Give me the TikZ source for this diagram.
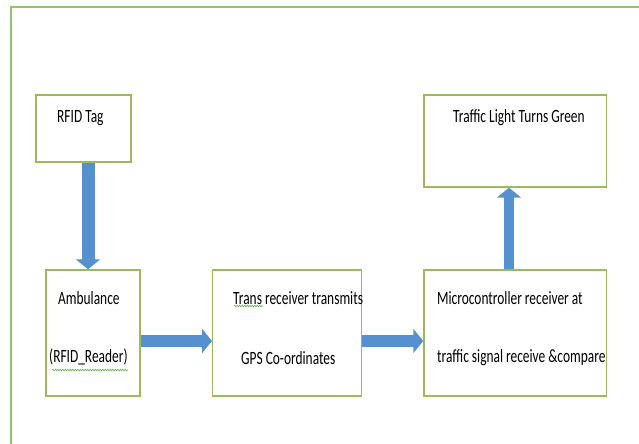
\documentclass[tikz,border=0pt]{standalone}
\usepackage{fontspec}
\setmainfont{Carlito}
\usetikzlibrary{arrows.meta,decorations.pathmorphing}
\definecolor{boxgreen}{HTML}{9BBB59}
\definecolor{framegreen}{HTML}{92C46E}
\definecolor{flowblue}{HTML}{5590CF}
\definecolor{squiggle}{HTML}{5FB04A}
% tall, narrow lettering
\newcommand{\tallText}[1]{\scalebox{1}[1.4]{#1}}
\tikzset{
  stage/.style={draw=boxgreen, line width=1.4bp, fill=white, inner sep=0pt},
  caption/.style={anchor=west, inner sep=0pt, font=\fontsize{13.4bp}{15bp}\selectfont},
  flow/.style={draw=flowblue, line width=#1},
  flowhead/.style={-{Triangle[width=24bp,length=10bp]}},
  spell/.style={draw=squiggle, line width=0.6bp,
    decorate, decoration={snake, amplitude=0.8bp, segment length=2.5bp}}
}
\begin{document}
\begin{tikzpicture}[x=1bp, y=-1bp]
\useasboundingbox (0,0) rectangle (639,444);
% outer frame
\draw[framegreen, line width=1.6bp] (11,450) -- (11,7) -- (645,7);

% stages
\node[stage, minimum width=95bp, minimum height=67bp] (rfid) at (83.5,128.5) {};
\node[stage, minimum width=94bp, minimum height=126bp] (amb) at (93,333) {};
\node[stage, minimum width=149bp, minimum height=126bp] (trans) at (287.2,333) {};
\node[stage, minimum width=182.7bp, minimum height=126bp] (micro) at (515.3,333) {};
\node[stage, minimum width=182.7bp, minimum height=92bp] (light) at (515.3,141) {};

% captions
\node[caption] (t1) at (57,118) {\tallText{RFID Tag}};
\node[caption] (t2) at (58,298) {\tallText{Ambulance}};
\node[caption] (t3) at (49,357) {\tallText{(RFID\_Reader)}};
\node[caption] (t4) at (233,298) {\tallText{Trans receiver transmits}};
\node[caption] (t5) at (241,358) {\tallText{GPS Co-ordinates}};
\node[caption] (t6) at (437,298) {\tallText{Microcontroller receiver at}};
\node[caption] (t7) at (437,358) {\tallText{traffic signal receive \&compare}};
\node[caption] (t8) at (453,118) {\tallText{Traffic Light Turns Green}};

% spell-check marks
\coordinate (s1a) at (52,370); \coordinate (s1b) at (128,370);
\coordinate (s2a) at (234,306); \coordinate (s2b) at (263,306);
\draw[spell] (s1a) -- (s1b);
\draw[spell] (s2a) -- (s2b);

% connectors
\coordinate (xdown) at (88,0);
\coordinate (xup) at (509,0);
\coordinate (yflow) at (0,341);
\draw[flow=13bp, flowhead] (rfid.south -| xdown) -- (amb.north -| xdown);
\draw[flow=12bp, flowhead] (amb.east |- yflow) -- (trans.west |- yflow);
\draw[flow=12bp, flowhead] (trans.east |- yflow) -- (micro.west |- yflow);
\draw[flow=10bp, flowhead] (micro.north -| xup) -- (light.south -| xup);
\end{tikzpicture}
\end{document}
